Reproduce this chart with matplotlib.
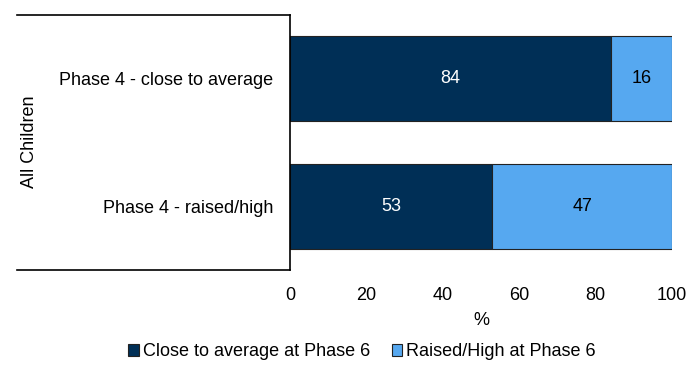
import matplotlib.pyplot as plt
from matplotlib.lines import Line2D
from matplotlib.patches import Patch

plt.rcParams['font.family'] = ['Liberation Sans', 'DejaVu Sans']

# ---- data ----
categories = ["Phase 4 - close to average", "Phase 4 - raised/high"]
group_label = "All Children"
close_avg = [84, 53]
raised_high = [16, 47]
series_names = ["Close to average at Phase 6", "Raised/High at Phase 6"]
x_ticks = [0, 20, 40, 60, 80, 100]

DARK = "#002F56"
LIGHT = "#56A8F0"
W, H = 699, 378
FS = 13

fig = plt.figure(figsize=(W / 100, H / 100), dpi=100)
ax = fig.add_axes([290 / W, (H - 270) / H, (672 - 290) / W, (270 - 15) / H])

ypos = list(range(len(categories)))
ax.barh(ypos, close_avg, height=0.667, color=DARK, edgecolor="#222222", linewidth=0.8)
ax.barh(ypos, raised_high, left=close_avg, height=0.667, color=LIGHT,
        edgecolor="#222222", linewidth=0.8)

for i in ypos:
    ax.text(close_avg[i] / 2, i, str(close_avg[i]), ha="center", va="center",
            color="white", fontsize=FS)
    ax.text(close_avg[i] + raised_high[i] / 2, i, str(raised_high[i]), ha="center",
            va="center", color="black", fontsize=FS)

ax.set_xlim(0, 100)
ax.set_ylim(len(categories) - 0.5, -0.5)
ax.set_xticks(x_ticks)
ax.set_xticklabels([str(t) for t in x_ticks], fontsize=FS)
ax.tick_params(axis="x", length=0, pad=12)
ax.set_yticks(ypos)
ax.set_yticklabels(categories, fontsize=FS)
ax.tick_params(axis="y", length=0, pad=12)
ax.set_xlabel("%", fontsize=FS, labelpad=6)
for s in ["top", "right", "bottom"]:
    ax.spines[s].set_visible(False)
ax.spines["left"].set_linewidth(1.2)

# category group box (top and bottom lines)
for yy in [15, 270]:
    fig.add_artist(Line2D([17 / W, 290 / W], [(H - yy) / H, (H - yy) / H],
                          color="black", linewidth=1.2))
fig.text(29 / W, (H - 142) / H, group_label, rotation=90, ha="center", va="center",
         fontsize=FS)

handles = [Patch(facecolor=DARK, edgecolor="#222222", linewidth=0.8),
           Patch(facecolor=LIGHT, edgecolor="#222222", linewidth=0.8)]
fig.legend(handles, series_names, loc="center", bbox_to_anchor=(362 / W, (H - 352) / H),
           ncol=2, frameon=False, fontsize=FS, handlelength=0.6, handleheight=0.6,
           handletextpad=0.2, columnspacing=1.2)

fig.savefig("out.png", dpi=100)
